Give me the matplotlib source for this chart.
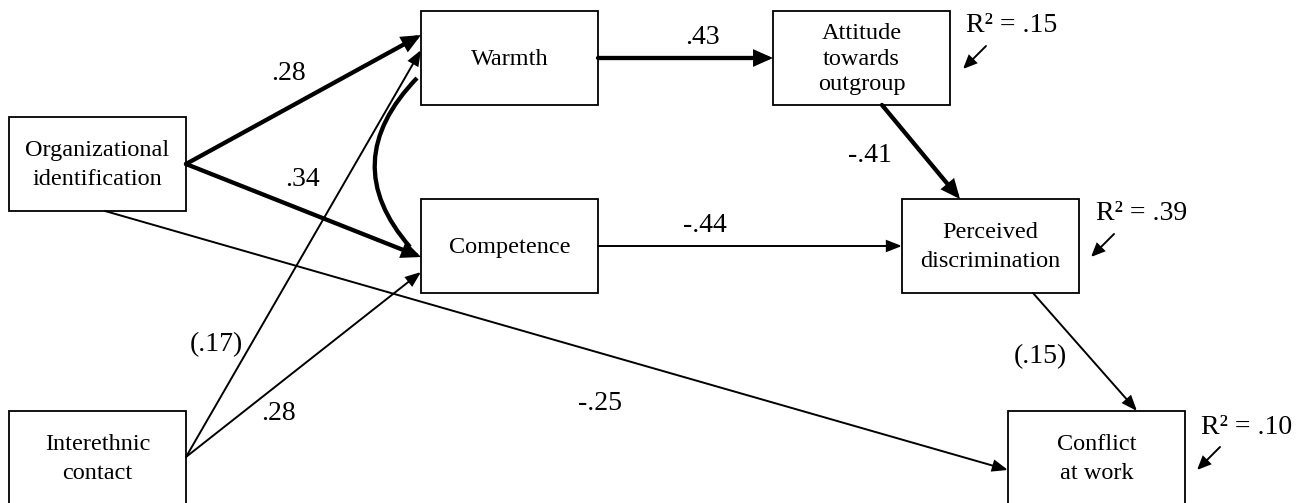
import matplotlib.pyplot as plt
import numpy as np
from matplotlib.patches import Rectangle, FancyArrowPatch, ArrowStyle
from matplotlib.path import Path as MplPath
from matplotlib.patches import PathPatch

plt.rcParams["font.family"] = ["Liberation Serif", "DejaVu Serif"]

# variables in the model
node_labels = [
    "Organizational\nidentification",
    "Interethnic\ncontact",
    "Warmth",
    "Competence",
    "Attitude\ntowards\noutgroup",
    "Perceived\ndiscrimination",
    "Conflict\nat work",
]

# paths: (from, to, coefficient label, strong path?)
path_from = [0, 0, 1, 1, 2, 3, 4, 5, 0]
path_to = [2, 3, 2, 3, 4, 5, 5, 6, 6]
path_labels = [".28", ".34", "(.17)", ".28", ".43", "-.44", "-.41", "(.15)", "-.25"]
path_strong = [True, True, False, False, True, False, True, False, False]

# explained variance of the endogenous outcomes
r2_nodes = [4, 5, 6]
r2_values = [".15", ".39", ".10"]

# ---- layout (pixel coordinates, y down) ----
BOX_W, BOX_H = 177, 94
box_xy = {
    0: (9, 117),
    1: (9, 411),
    2: (421, 11),
    3: (421, 199),
    4: (773, 11),
    5: (902, 199),
    6: (1008, 411),
}
path_points = [
    ((186, 164), (421, 35)),
    ((186, 164), (421, 257)),
    ((186, 457), (421, 50)),
    ((186, 457), (421, 272)),
    ((598, 58), (773, 58)),
    ((598, 246), (902, 246)),
    ((882, 105), (960, 199)),
    ((1033, 293), (1137, 411)),
    ((105, 211), (1008, 470)),
]
label_points = [
    (288, 73), (302, 180), (216, 345), (278, 413), (702, 37),
    (705, 225), (870, 155), (1040, 357), (600, 403),
]
r2_text_points = [(1012, 25), (1142, 213), (1247, 427)]
r2_arrow_points = [
    ((986, 46), (963, 69)),
    ((1114, 234), (1091, 257)),
    ((1220, 447), (1197, 470)),
]

fig = plt.figure(figsize=(13.07, 5.03), dpi=100)
ax = fig.add_axes([0, 0, 1, 1])
ax.set_xlim(0, 1307)
ax.set_ylim(503, 0)
ax.axis("off")

for i, label in enumerate(node_labels):
    x0, y0 = box_xy[i]
    ax.add_patch(Rectangle((x0, y0), BOX_W, BOX_H, facecolor="white",
                           edgecolor="black", linewidth=1.3, zorder=2))
    spacing = 1.3 if label.count("\n") == 2 else 1.45
    ax.text(x0 + BOX_W / 2, y0 + BOX_H / 2 + 1, label, ha="center", va="center",
            fontsize=17.5, linespacing=spacing, zorder=3)


def arrow(p0, p1, lw, hl, hw):
    style = ArrowStyle("-|>", head_length=hl, head_width=hw)
    ax.add_patch(FancyArrowPatch(p0, p1, arrowstyle=style, mutation_scale=1,
                                 linewidth=lw, color="black", shrinkA=0,
                                 shrinkB=0, joinstyle="miter", zorder=4))


for k in range(len(path_labels)):
    p0, p1 = path_points[k]
    if path_strong[k]:
        arrow(p0, p1, 3.1, 9, 4)
    else:
        arrow(p0, p1, 1.4, 9, 3.5)
    lx, ly = label_points[k]
    ax.text(lx, ly, path_labels[k], ha="center", va="center", fontsize=20, zorder=5)

# correlation between warmth and competence
verts = [(417, 78), (336, 162), (410, 247)]
curve = MplPath(verts, [MplPath.MOVETO, MplPath.CURVE3, MplPath.CURVE3])
ax.add_patch(PathPatch(curve, facecolor="none", edgecolor="black", linewidth=3.1, zorder=4))

for k, val in enumerate(r2_values):
    tx, ty = r2_text_points[k]
    ax.text(tx, ty, "R² = " + val, ha="center", va="center", fontsize=20)
    p0, p1 = r2_arrow_points[k]
    arrow(p0, p1, 1.4, 8, 3.5)

fig.savefig("out.png", dpi=100)
